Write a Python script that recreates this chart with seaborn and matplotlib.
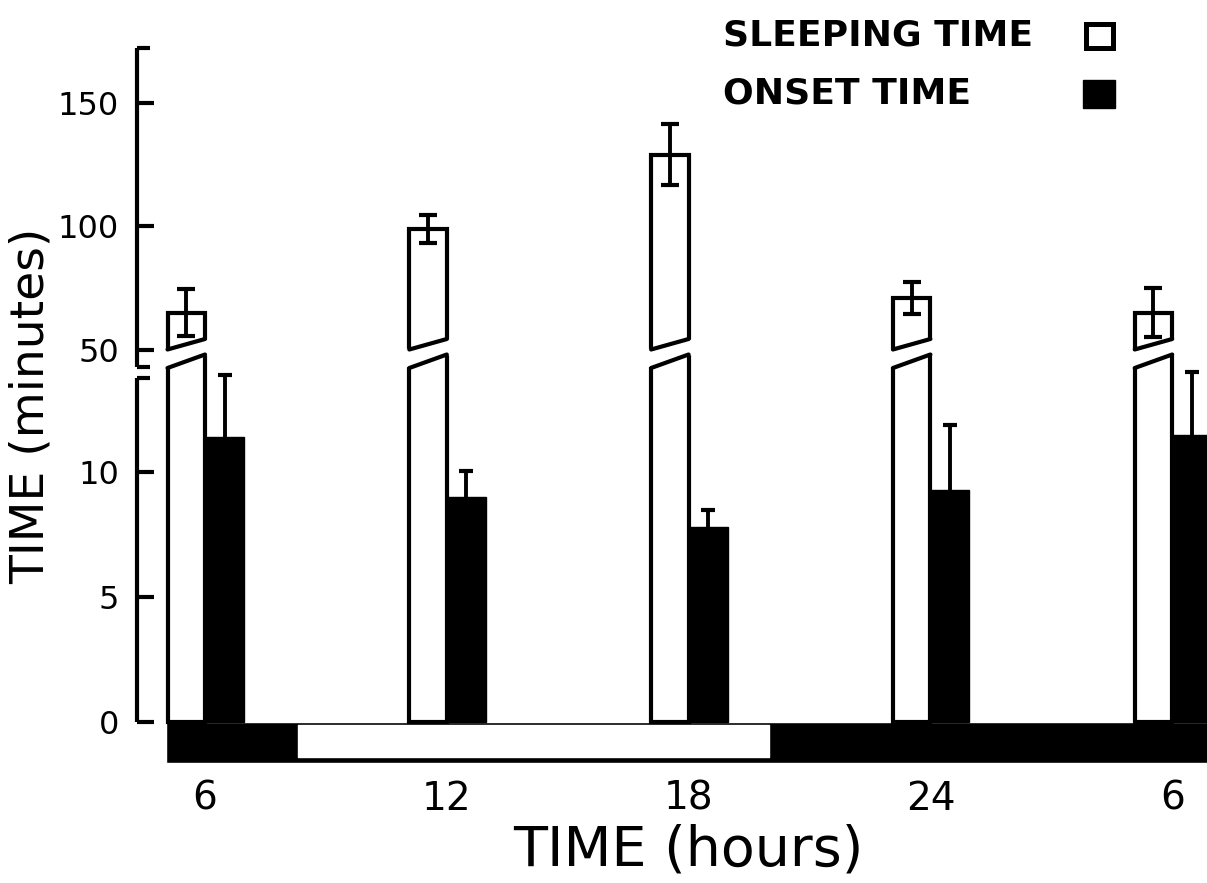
import numpy as np
import pandas as pd
import matplotlib
matplotlib.use("Agg")
import matplotlib.pyplot as plt
from matplotlib.patches import Rectangle
import seaborn as sns

# ---------------- data ----------------
time_labels = ["6", "12", "18", "24", "6"]
sample_hours = [6, 12, 18, 24, 30]
sleeping_time = [65, 99, 129, 71, 65]        # minutes
sleeping_err = [9.5, 5.7, 12.5, 6.5, 10.0]
onset_time = [11.4, 9.0, 7.8, 9.3, 11.5]     # minutes
onset_err = [2.5, 1.05, 0.7, 2.6, 2.5]
light_period = (8.3, 20.0)                    # hours (white band)
legend_labels = ["SLEEPING TIME", "ONSET TIME"]
ytick_values = [0, 5, 10, 50, 100, 150]

# ---------------- broken y scale ----------------
B1, B2, B3, K = 14.0, 45.0, 14.4, 0.0988
C = (B3 - B1) / (B2 - B1)


def fwd(y):
    y = np.asarray(y, float)
    return np.where(y <= B1, y, np.where(y <= B2, B1 + (y - B1) * C, B3 + (y - B2) * K))


def inv(u):
    u = np.asarray(u, float)
    return np.where(u <= B1, u, np.where(u <= B3, B1 + (u - B1) / C, B2 + (u - B3) / K))


sns.set_theme(style="white")
plt.rcParams["font.family"] = ["DejaVu Sans"]

W, H = 1207, 883
ax_left_px = 163
fig = plt.figure(figsize=(W / 100, H / 100), dpi=100)
ax = fig.add_axes([ax_left_px / W, 1 - 763 / H, (W - ax_left_px) / W, 715 / H])

w_sleep, w_onset = 0.93, 0.97
sleep_x = np.array(sample_hours) - w_sleep / 2
onset_x = np.array(sample_hours) + w_onset / 2
df = pd.DataFrame({"sx": sleep_x, "ox": onset_x,
                   "sleep": sleeping_time, "onset": onset_time})

sns.barplot(data=df, x="sx", y="sleep", native_scale=True, width=w_sleep / 6,
            color="white", edgecolor="black", linewidth=3.0, errorbar=None,
            saturation=1, ax=ax, zorder=2)
sns.barplot(data=df, x="ox", y="onset", native_scale=True, width=w_onset / 6,
            color="black", edgecolor="black", linewidth=1.0, errorbar=None,
            saturation=1, ax=ax, zorder=2)

ax.set_yscale("function", functions=(fwd, inv))

# break in the sleeping-time bars
low_l, low_r, up_l, up_r = inv([14.16, 14.70, 14.90, 15.32])
m = 0.12
for xc in sleep_x:
    xl, xr = xc - w_sleep / 2, xc + w_sleep / 2
    ax.fill([xl - m, xr + m, xr + m, xl - m], [low_l, low_r, up_r, up_l],
            color="white", lw=0, zorder=3)
    ax.plot([xl, xr], [low_l, low_r], color="black", lw=3.0,
            solid_capstyle="round", zorder=4)
    ax.plot([xl, xr], [up_l, up_r], color="black", lw=3.0,
            solid_capstyle="round", zorder=4)

ax.errorbar(sleep_x, sleeping_time, yerr=sleeping_err, fmt="none",
            ecolor="black", elinewidth=2.8, capsize=6.5, capthick=3.0, zorder=5)
ax.errorbar(onset_x, onset_time, yerr=onset_err, fmt="none",
            ecolor="black", elinewidth=2.8, capsize=5, capthick=3.0, zorder=5)

# limits
px_per_h = 40.3
xlim = (6 - (205 - ax_left_px) / px_per_h, 6 + (W - 205) / px_per_h)
ybot = -1.64
ytop = float(inv(26.96))
ax.set_xlim(*xlim)
ax.set_ylim(ybot, ytop)

# light / dark band under the axis
band_start = sleep_x[0] - w_sleep / 2 - 0.03
ax.broken_barh([(band_start, xlim[1] + 1 - band_start)], (ybot, 0 - ybot),
               facecolors="black", zorder=1)
yl0, yl1 = -1.40, -0.12
ax.broken_barh([(light_period[0], light_period[1] - light_period[0])],
               (yl0, yl1 - yl0), facecolors="white", zorder=1.5)

# spines / axis line with break
for s in ["top", "right", "bottom"]:
    ax.spines[s].set_visible(False)
sp = ax.spines["left"]
sp.set_position(("outward", (ax_left_px - 137) * 0.72))
sp.set_visible(False)
lower_end = 13.76
upper_start = float(inv(14.2))
tr = sp.get_spine_transform()
ax.plot([0, 0], [0, lower_end], color="black", lw=3.0, transform=tr,
        clip_on=False, solid_capstyle="butt", zorder=6)
ax.plot([0, 0], [upper_start, ytop], color="black", lw=3.0, transform=tr,
        clip_on=False, solid_capstyle="butt", zorder=6)

ax.set_yticks(ytick_values)
ax.set_yticklabels([str(v) for v in ytick_values])
ax.set_yticks([lower_end, upper_start, ytop - 0.01], minor=True)
ax.tick_params(axis="y", which="major", direction="in", length=12.5, width=3.0,
               color="black", labelsize=23, pad=13, labelcolor="black", left=True)
ax.tick_params(axis="y", which="minor", direction="in", length=9, width=3.0,
               color="black", left=True)

ax.set_xticks(sample_hours)
ax.set_xticklabels(time_labels)
ax.tick_params(axis="x", length=0, labelsize=28, pad=12, labelcolor="black")

ax.set_xlabel("TIME (hours)", fontsize=40, color="black")
ax.xaxis.set_label_coords((688 - ax_left_px) / (W - ax_left_px), -0.122)
ax.xaxis.label.set_verticalalignment("center")
ax.set_ylabel("TIME (minutes)", fontsize=34, color="black")
ax.yaxis.set_label_coords((31 - ax_left_px) / (W - ax_left_px), 0.50)
ax.yaxis.label.set_verticalalignment("center")
ax.grid(False)

# legend (text, then key square on the right)
fig.text(723 / W, 1 - 35 / H, legend_labels[0], fontsize=26,
         fontweight="bold", va="center", ha="left", color="black")
fig.text(723 / W, 1 - 93 / H, legend_labels[1], fontsize=26,
         fontweight="bold", va="center", ha="left", color="black")
fig.patches.append(Rectangle((1086 / W, 1 - 48 / H), 27 / W, 24 / H,
                             transform=fig.transFigure, facecolor="white",
                             edgecolor="black", lw=3.6, figure=fig))
fig.patches.append(Rectangle((1083 / W, 1 - 108 / H), 32 / W, 28 / H,
                             transform=fig.transFigure, facecolor="black",
                             edgecolor="black", lw=1, figure=fig))

fig.savefig("out.png", dpi=100, facecolor="white")
